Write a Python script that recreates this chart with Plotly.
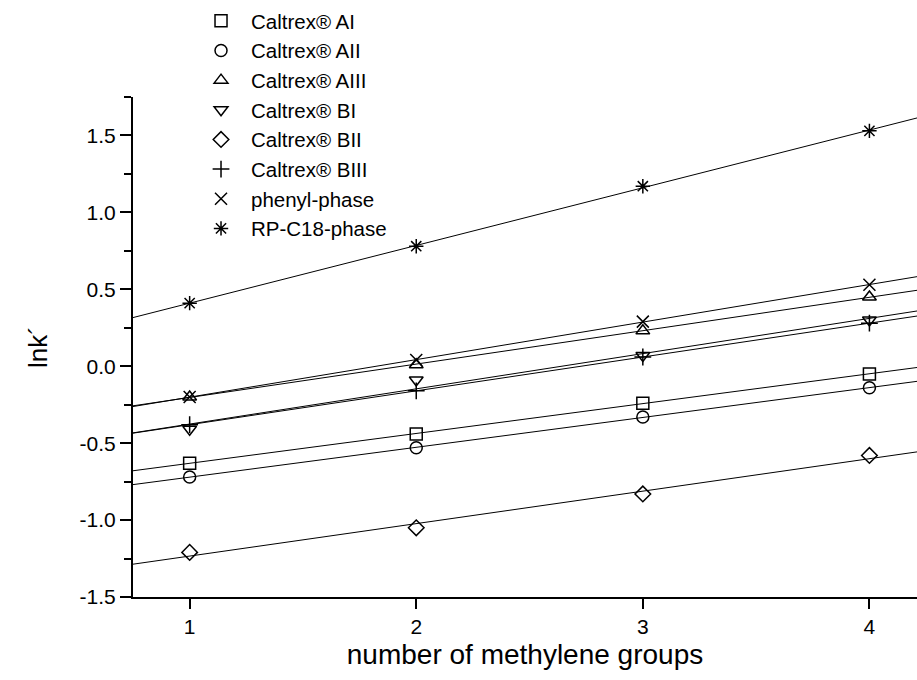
import numpy as np
import plotly.graph_objects as go

# Number of CH2 groups in the homologous series
methylene_groups = [1, 2, 3, 4]

# ln k' per stationary phase
caltrex_ai = [-0.63, -0.44, -0.24, -0.05]
caltrex_aii = [-0.72, -0.53, -0.33, -0.14]
caltrex_aiii = [-0.20, 0.01, 0.23, 0.45]
caltrex_bi = [-0.41, -0.09, 0.07, 0.30]
caltrex_bii = [-1.21, -1.05, -0.83, -0.58]
caltrex_biii = [-0.38, -0.16, 0.06, 0.28]
phenyl_phase = [-0.20, 0.04, 0.29, 0.53]
rp_c18_phase = [0.41, 0.78, 1.17, 1.53]

series_names = ["Caltrex® AI", "Caltrex® AII", "Caltrex® AIII", "Caltrex® BI",
                "Caltrex® BII", "Caltrex® BIII", "phenyl-phase", "RP-C18-phase"]
series_values = [caltrex_ai, caltrex_aii, caltrex_aiii, caltrex_bi,
                 caltrex_bii, caltrex_biii, phenyl_phase, rp_c18_phase]
symbols = ["square-open", "circle-open", "triangle-up-open", "triangle-down-open",
           "diamond-open", "cross-thin-open", "x-thin-open", "asterisk-open"]

x_range = [0.75, 4.21]
font_family = "Liberation Sans, Arial, Helvetica, sans-serif"

fig = go.Figure()

# Least-squares regression line for each phase, spanning the full axis
x_fit = np.array([x_range[0] - 0.05, x_range[1] + 0.3])
for name, vals in zip(series_names, series_values):
    slope, intercept = np.polyfit(methylene_groups, vals, 1)
    fig.add_trace(go.Scatter(
        x=x_fit, y=slope * x_fit + intercept, mode="lines",
        line=dict(color="black", width=1), showlegend=False, hoverinfo="skip",
    ))

# Measured points
for name, vals, sym in zip(series_names, series_values, symbols):
    fig.add_trace(go.Scatter(
        x=methylene_groups, y=vals, mode="markers", name=name,
        marker=dict(symbol=sym, size=12, color="black",
                    line=dict(color="black", width=1.5)),
    ))

fig.update_layout(
    width=917, height=680,
    margin=dict(l=133, r=0, t=97, b=83),
    paper_bgcolor="white", plot_bgcolor="white",
    font=dict(family=font_family, size=21, color="black"),
    showlegend=True,
    legend=dict(
        x=0.074, y=1.192, xanchor="left", yanchor="top",
        bgcolor="rgba(0,0,0,0)", borderwidth=0,
        font=dict(family=font_family, size=20.5, color="black"),
        itemwidth=50,
    ),
    xaxis=dict(
        range=x_range, showgrid=False, zeroline=False,
        showline=True, linecolor="black", linewidth=2,
        tickmode="array", tickvals=methylene_groups,
        ticks="outside", ticklen=10, tickwidth=2, tickcolor="black",
        title=dict(text="number of methylene groups",
                   font=dict(size=28), standoff=7),
        tickfont=dict(size=21),
    ),
    yaxis=dict(
        range=[-1.5, 1.75], showgrid=False, zeroline=False,
        showline=True, linecolor="black", linewidth=2,
        tickmode="array", tickvals=[-1.5, -1.0, -0.5, 0.0, 0.5, 1.0, 1.5],
        ticktext=["-1.5", "-1.0", "-0.5", "0.0", "0.5", "1.0", "1.5"],
        ticks="outside", ticklen=11, tickwidth=2, tickcolor="black",
        minor=dict(tickvals=[-1.25, -0.75, -0.25, 0.25, 0.75, 1.25, 1.75],
                   ticks="outside", ticklen=7, tickwidth=2, tickcolor="black"),
        title=dict(text="lnk´", font=dict(size=26), standoff=25),
        tickfont=dict(size=21),
    ),
)

fig.write_html("out.html")
